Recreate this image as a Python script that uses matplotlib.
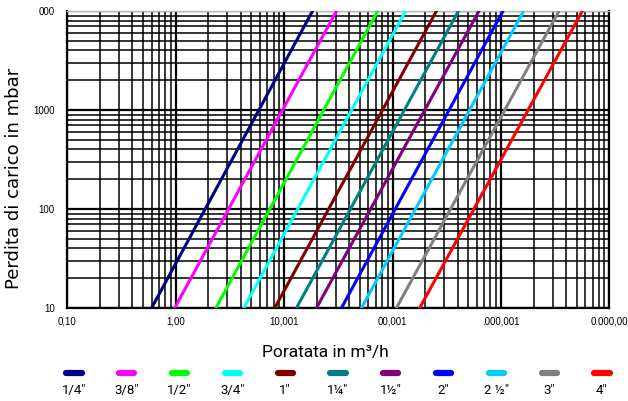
import matplotlib.pyplot as plt
from matplotlib.lines import Line2D
from matplotlib.ticker import FixedLocator, LogLocator, NullFormatter

sizes = ['1/4"', '3/8"', '1/2"', '3/4"', '1"', '1\u00bc"', '1\u00bd"', '2"', '2 \u00bd"', '3"', '4"']
colors = ['#000080', '#ff00ff', '#00ff00', '#00ffff', '#800000', '#008080',
          '#800080', '#0000ff', '#00ccff', '#808080', '#ff0000']
q_low = [0.60, 0.98, 2.35, 4.25, 8.2, 13.0, 19.9, 33.8, 51.7, 108.6, 178]
q_high = [18.3, 30.4, 73.1, 132, 254, 405, 627, 1043, 1619, 3427, 5627]
p_range = [10, 10000]

x_ticks = [0.1, 1, 10, 100, 1000, 10000]
x_labels = ['0,10', '1,00', '10,001', '00,001', '.000,001', '0.000,00']
y_ticks = [10, 100, 1000, 10000]
y_labels = ['10', '100', '1000', '000']

plt.rcParams['font.family'] = ['Liberation Sans', 'DejaVu Sans']

fig = plt.figure(figsize=(6.28, 4.01), dpi=100)
ax = fig.add_axes([0.107, 0.2319, 0.8634, 0.7407])

for i in range(len(sizes)):
    ax.plot([q_low[i], q_high[i]], p_range, color=colors[i], lw=2.2, zorder=3)

ax.set_xscale('log')
ax.set_yscale('log')
ax.set_xlim(0.1, 10000)
ax.set_ylim(10, 10000)

ax.xaxis.set_major_locator(FixedLocator(x_ticks))
ax.set_xticklabels(x_labels)
ax.yaxis.set_major_locator(FixedLocator(y_ticks))
ax.set_yticklabels(y_labels)
ax.xaxis.set_minor_locator(LogLocator(base=10, subs=range(2, 10), numticks=20))
ax.yaxis.set_minor_locator(LogLocator(base=10, subs=range(2, 10), numticks=20))
ax.xaxis.set_minor_formatter(NullFormatter())
ax.yaxis.set_minor_formatter(NullFormatter())

ax.grid(which='major', color='black', lw=1.6, zorder=1)
ax.grid(which='minor', color='black', lw=1.1, zorder=1)
ax.tick_params(which='both', length=0, labelsize=7)
ax.tick_params(axis='x', pad=6)
ax.tick_params(axis='y', pad=9)

for s in ['left', 'bottom', 'right']:
    ax.spines[s].set_linewidth(1.6)
ax.spines['top'].set_color('#bbbbbb')
ax.spines['top'].set_linewidth(1)

fig.text(0.023, 0.555, 'Perdita di carico in mbar', rotation=90,
         ha='center', va='center', fontsize=13, family='DejaVu Sans')
fig.text(0.518, 0.121, 'Poratata in m\u00b3/h', ha='center', va='center',
         fontsize=12.5, family='Roboto')

# legenda in basso
x0 = 74 / 628
dx = 52.8 / 628
for i in range(len(sizes)):
    xc = x0 + i * dx
    fig.add_artist(Line2D([xc - 0.012, xc + 0.012], [0.070, 0.070],
                          transform=fig.transFigure, color=colors[i],
                          lw=4.5, solid_capstyle='round'))
    fig.text(xc, 0.027, sizes[i], ha='center', va='center', fontsize=9.5,
             family='Roboto')

fig.savefig('out.png', dpi=100)
